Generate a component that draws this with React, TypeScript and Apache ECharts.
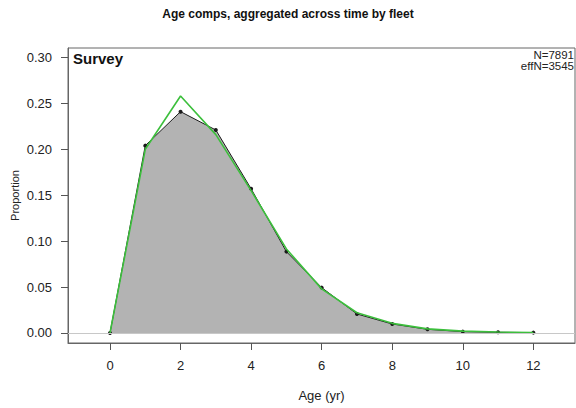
import React, { useEffect, useRef } from "react";
import * as echarts from "echarts";

// Age composition, survey fleet, aggregated over years
const ages = [0, 1, 2, 3, 4, 5, 6, 7, 8, 9, 10, 11, 12];
const observed = [0.0, 0.204, 0.241, 0.221, 0.157, 0.0886, 0.0494, 0.0207, 0.0098, 0.004, 0.0015, 0.0008, 0.0004];
const expected = [0.0, 0.2, 0.258, 0.216, 0.155, 0.0915, 0.048, 0.022, 0.0105, 0.0045, 0.002, 0.001, 0.0005];
const xTicks = [0, 2, 4, 6, 8, 10, 12];
const yTicks = [0, 0.05, 0.1, 0.15, 0.2, 0.25, 0.3];

const FONT = "'Liberation Sans', Arial, sans-serif";

export default function App() {
  const ref = useRef<HTMLDivElement>(null);

  useEffect(() => {
    if (!ref.current) return;
    const chart = echarts.init(ref.current, undefined, { renderer: "svg" });
    chart.setOption({
      animation: false,
      backgroundColor: "#ffffff",
      textStyle: { fontFamily: FONT },
      grid: {
        left: 68,
        right: 1,
        top: 48,
        bottom: 65,
        containLabel: false,
        outerBoundsMode: "none",
        show: true,
        borderColor: "#666666",
        borderWidth: 1,
        backgroundColor: "transparent",
      },
      xAxis: {
        type: "value",
        min: -1.19,
        max: 13.18,
        name: "Age (yr)",
        nameLocation: "middle",
        nameGap: 46,
        nameMoveOverlap: false,
        nameTextStyle: { fontSize: 13, color: "#222", fontFamily: FONT },
        axisLine: { show: true, onZero: false, lineStyle: { color: "#666666" } },
        axisTick: {
          show: true,
          length: 7,
          customValues: xTicks,
          lineStyle: { color: "#555555" },
        },
        axisLabel: {
          customValues: xTicks,
          margin: 16,
          fontSize: 13,
          color: "#222",
          fontFamily: FONT,
        },
        splitLine: { show: false },
      },
      yAxis: {
        type: "value",
        min: -0.0109,
        max: 0.3103,
        name: "Proportion",
        nameLocation: "middle",
        nameGap: 48,
        nameMoveOverlap: false,
        nameRotate: 90,
        nameTextStyle: { fontSize: 11, color: "#222", fontFamily: FONT },
        axisLine: { show: true, onZero: false, lineStyle: { color: "#666666" } },
        axisTick: {
          show: true,
          length: 7,
          customValues: yTicks,
          lineStyle: { color: "#555555" },
        },
        axisLabel: {
          customValues: yTicks,
          margin: 16,
          fontSize: 13,
          color: "#222",
          fontFamily: FONT,
          formatter: (v: number) => v.toFixed(2),
        },
        splitLine: { show: false },
      },
      series: [
        {
          name: "Observed",
          type: "line",
          data: ages.map((a, i) => [a, observed[i]]),
          symbol: "circle",
          symbolSize: 4,
          itemStyle: { color: "#1a1a1a" },
          lineStyle: { color: "#1a1a1a", width: 1 },
          areaStyle: { color: "#b3b3b3", opacity: 1 },
          z: 2,
          markLine: {
            silent: true,
            symbol: "none",
            label: { show: false },
            lineStyle: { color: "#c8c8c8", width: 1, type: "solid" },
            data: [{ yAxis: 0 }],
          },
        },
        {
          name: "Expected",
          type: "line",
          data: ages.map((a, i) => [a, expected[i]]),
          symbol: "none",
          lineStyle: { color: "#3cbf3c", width: 1.6 },
          z: 3,
        },
      ],
      graphic: [
        {
          type: "text",
          left: "center",
          top: 8,
          style: {
            text: "Age comps, aggregated across time by fleet",
            font: `bold 12px ${FONT}`,
            fill: "#111",
          },
        },
        {
          type: "text",
          x: 73,
          y: 51,
          style: {
            text: "Survey",
            font: `bold 15px ${FONT}`,
            fill: "#111",
          },
        },
        {
          type: "text",
          x: 574,
          y: 55,
          style: {
            text: "N=7891",
            font: `11.5px ${FONT}`,
            fill: "#222",
            align: "right",
            verticalAlign: "middle",
          },
        },
        {
          type: "text",
          x: 574,
          y: 66,
          style: {
            text: "effN=3545",
            font: `11.5px ${FONT}`,
            fill: "#222",
            align: "right",
            verticalAlign: "middle",
          },
        },
      ],
    });
    return () => chart.dispose();
  }, []);

  return (
    <div
      ref={ref}
      style={{ position: "fixed", left: 0, top: 0, width: 576, height: 408 }}
    />
  );
}
